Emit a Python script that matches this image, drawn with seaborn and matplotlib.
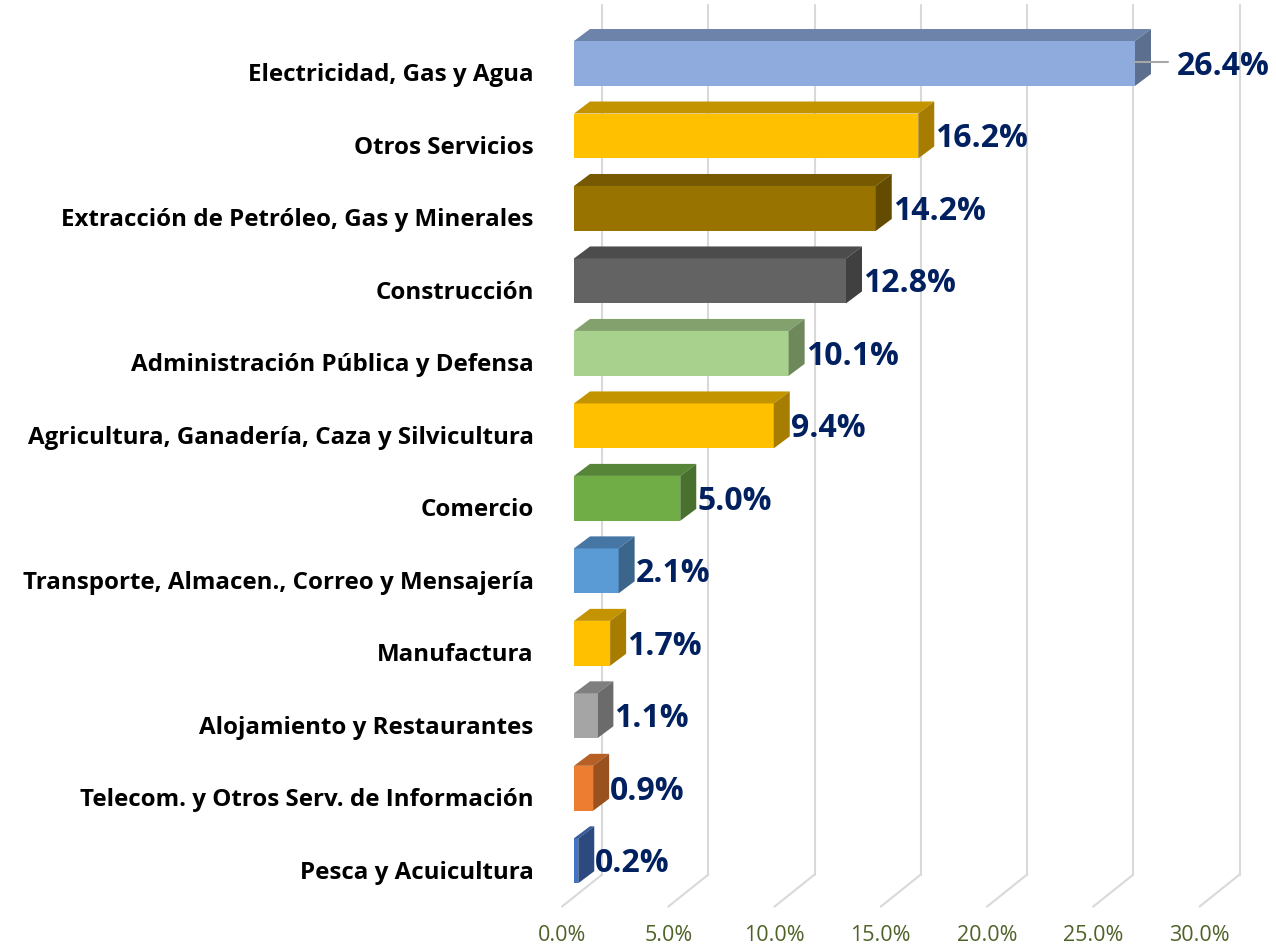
import numpy as np
import pandas as pd
import matplotlib
matplotlib.use('Agg')
import matplotlib.pyplot as plt
import matplotlib.transforms as mtransforms
from matplotlib.patches import Polygon
from matplotlib.colors import to_rgb
import seaborn as sns

# ---------------- datos ----------------
sectores = [
    'Electricidad, Gas y Agua',
    'Otros Servicios',
    'Extracción de Petróleo, Gas y Minerales',
    'Construcción',
    'Administración Pública y Defensa',
    'Agricultura, Ganadería, Caza y Silvicultura',
    'Comercio',
    'Transporte, Almacen., Correo y Mensajería',
    'Manufactura',
    'Alojamiento y Restaurantes',
    'Telecom. y Otros Serv. de Información',
    'Pesca y Acuicultura',
]
valores = [26.4, 16.2, 14.2, 12.8, 10.1, 9.4, 5.0, 2.1, 1.7, 1.1, 0.9, 0.2]
colores = ['#8FAADC', '#FFC000', '#997300', '#636363', '#A9D18E', '#FFC000',
           '#70AD47', '#5B9BD5', '#FFC000', '#A5A5A5', '#ED7D31', '#4472C4']
ticks_x = [0, 5, 10, 15, 20, 25, 30]

# ---------------- estilo ----------------
sns.set_theme(style='white')
plt.rcParams['font.family'] = ['Open Sans', 'DejaVu Sans']

W, H = 1276, 950
fig = plt.figure(figsize=(W / 100, H / 100), dpi=100)
# plano frontal de las barras (en pixeles)
left, right, top, bottom = 574, 1211.5, 27.25, 897
ax = fig.add_axes([left / W, 1 - bottom / H, (right - left) / W, (bottom - top) / H])

df = pd.DataFrame({'sector': sectores, 'valor': valores})
sns.barplot(data=df, x='valor', y='sector', hue='sector', palette=colores,
            legend=False, width=0.62, saturation=1, ax=ax, zorder=3)
ax.set_xlim(0, 30)
ax.set_ylim(len(sectores) - 0.5, -0.5)

px_x = (right - left) / 30.0
px_y = (bottom - top) / len(sectores)

def oscurecer(c, f):
    r, g, b = to_rgb(c)
    return (r * f, g * f, b * f)

# ---------------- caras 3D ----------------
ddx, ddy = 16 / px_x, 12 / px_y
for cont, col in zip(ax.containers, colores):
    for bar in cont:
        bar.set_edgecolor('none')
        x0, y0, w, h = bar.get_x(), bar.get_y(), bar.get_width(), bar.get_height()
        cara_sup = [(x0, y0), (x0 + w, y0), (x0 + w + ddx, y0 - ddy), (x0 + ddx, y0 - ddy)]
        cara_lat = [(x0 + w, y0), (x0 + w, y0 + h), (x0 + w + ddx, y0 + h - ddy),
                    (x0 + w + ddx, y0 - ddy)]
        ax.add_patch(Polygon(cara_sup, closed=True, facecolor=oscurecer(col, 0.77),
                             edgecolor='none', zorder=3, clip_on=False))
        ax.add_patch(Polygon(cara_lat, closed=True, facecolor=oscurecer(col, 0.65),
                             edgecolor='none', zorder=3, clip_on=False))

# ---------------- pared y piso ----------------
y_bajo = len(sectores) - 0.5
wx, wy = 28 / px_x, -22.4 / px_y
fx, fy = -12 / px_x, 9.6 / px_y
for v in ticks_x:
    ax.plot([v + wx, v + wx], [y_bajo + wy, -0.5 + wy], color='#D9D9D9', lw=1.5,
            zorder=0, clip_on=False)
    ax.plot([v + fx, v + wx], [y_bajo + fy, y_bajo + wy], color='#D9D9D9', lw=1.5,
            zorder=0, clip_on=False)

# ---------------- etiquetas de valor ----------------
for i, v in enumerate(valores):
    if v == max(valores):
        ax.plot([v, v + 33 / px_x], [i - 1 / px_y, i - 1 / px_y], color='#A6A6A6',
                lw=1.5, zorder=4, clip_on=False)
        xt = v + 42 / px_x
    else:
        xt = v + 17 / px_x
    ax.text(xt, i + 3 / px_y, f'{v:.1f}%', ha='left', va='center', color='#002060',
            fontsize=23, fontweight='bold', zorder=5, clip_on=False)

# ---------------- ejes ----------------
ax.set_xticks(ticks_x)
ax.set_xticklabels([f'{v:.1f}%' for v in ticks_x], color='#4F6228', fontsize=15.5)
ax.tick_params(axis='x', length=0, pad=20)
ax.tick_params(axis='y', length=0, pad=29)
for lab in ax.get_yticklabels():
    lab.set_fontweight('bold')
    lab.set_fontsize(17.4)
    lab.set_color('black')
    lab.set_transform(lab.get_transform() +
                      mtransforms.ScaledTranslation(0, -9 / 100, fig.dpi_scale_trans))
for lab in ax.get_xticklabels():
    lab.set_transform(lab.get_transform() +
                      mtransforms.ScaledTranslation(-12 / 100, 0, fig.dpi_scale_trans))
ax.set_xlabel('')
ax.set_ylabel('')
for s in ax.spines.values():
    s.set_visible(False)
ax.grid(False)

fig.savefig('out.png', dpi=100)
